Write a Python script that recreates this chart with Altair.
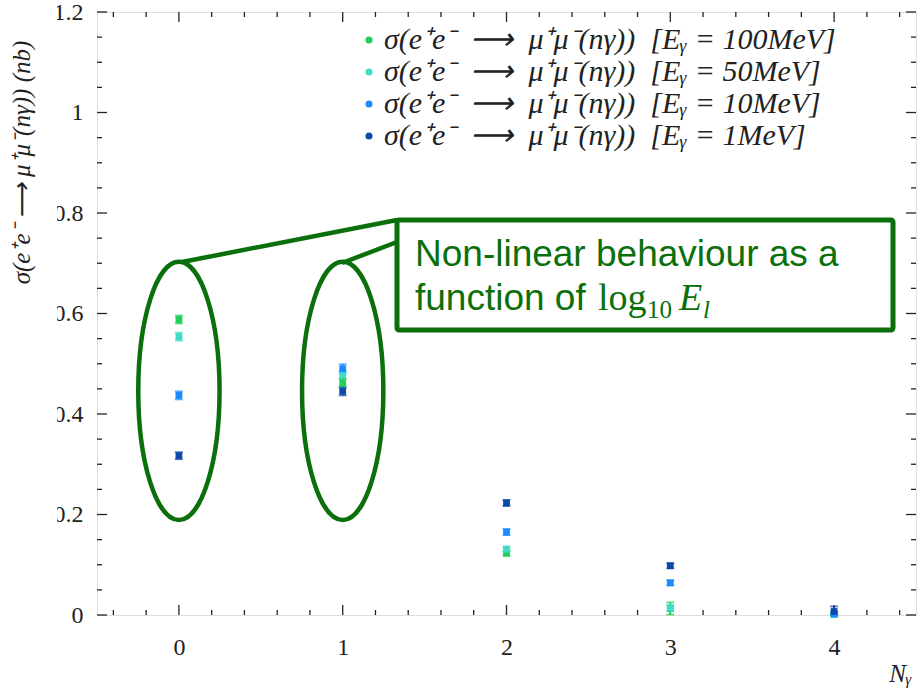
import altair as alt
import pandas as pd

# ---------------- data ----------------
n_gamma = [0, 1, 2, 3, 4]
sigma_100 = [0.588, 0.462, 0.123, 0.013, 0.001]
sigma_50 = [0.554, 0.478, 0.131, 0.014, 0.001]
sigma_10 = [0.437, 0.490, 0.165, 0.064, 0.002]
sigma_1 = [0.317, 0.445, 0.223, 0.098, 0.007]
err_100 = [0.008, 0.008, 0.005, 0.012, 0.004]
err_50 = [0.008, 0.008, 0.005, 0.006, 0.004]
err_10 = [0.008, 0.009, 0.006, 0.005, 0.004]
err_1 = [0.007, 0.008, 0.006, 0.005, 0.010]

EN = "\u2002"
series_labels = [
    f"σ(e⁺e⁻{EN}⟶{EN}μ⁺μ⁻(nγ)){EN}[Eᵧ = 100MeV]",
    f"σ(e⁺e⁻{EN}⟶{EN}μ⁺μ⁻(nγ)){EN}[Eᵧ = 50MeV]",
    f"σ(e⁺e⁻{EN}⟶{EN}μ⁺μ⁻(nγ)){EN}[Eᵧ = 10MeV]",
    f"σ(e⁺e⁻{EN}⟶{EN}μ⁺μ⁻(nγ)){EN}[Eᵧ = 1MeV]",
]
series_colors = ["#1fcf5a", "#40dcc8", "#1a8cff", "#0b4aa6"]

x_major = [0, 1, 2, 3, 4]
x_minor = [-0.4, -0.2, 0.2, 0.4, 0.6, 0.8, 1.2, 1.4, 1.6, 1.8,
           2.2, 2.4, 2.6, 2.8, 3.2, 3.4, 3.6, 3.8, 4.2, 4.4]
y_major = [0, 0.2, 0.4, 0.6, 0.8, 1.0, 1.2]
y_minor = [0.05, 0.1, 0.15, 0.25, 0.3, 0.35, 0.45, 0.5, 0.55, 0.65,
           0.7, 0.75, 0.85, 0.9, 0.95, 1.05, 1.1, 1.15]

# highlighted groups (ellipse annotation centres)
ellipse_x = [0, 1]
ellipse_y = [0.446, 0.446]

annot_line1 = "Non-linear behaviour as a"
annot_line2 = "function of"

# ---------------- build tables ----------------
rows = []
for lab, vals, errs in zip(series_labels,
                           [sigma_100, sigma_50, sigma_10, sigma_1],
                           [err_100, err_50, err_10, err_1]):
    for xv, v, e in zip(n_gamma, vals, errs):
        rows.append({"n": xv, "sigma": v, "lo": max(v - e, 0), "hi": v + e, "series": lab})
df = pd.DataFrame(rows)

W, H = 819, 603
GREEN = "#0b700b"
SERIF = "Liberation Serif"
INK = "#222222"

xscale = alt.Scale(domain=[-0.5, 4.5], nice=False, zero=False)
yscale = alt.Scale(domain=[0, 1.2], nice=False, zero=True)
cscale = alt.Scale(domain=series_labels, range=series_colors)
color = alt.Color(
    "series:N",
    scale=cscale,
    sort=series_labels,
    legend=alt.Legend(
        orient="none", legendX=257, legendY=13, title=None,
        labelFont=SERIF, labelFontStyle="italic", labelFontSize=30,
        labelColor=INK, labelLimit=0, labelOffset=0,
        symbolType="circle", symbolSize=50, symbolStrokeWidth=0,
        symbolOpacity=1, rowPadding=2, padding=0,
    ),
)
color_nolegend = alt.Color("series:N", scale=cscale, legend=None)

base = alt.Chart(df)

x_axis = alt.Axis(
    values=x_major, format="~g", domain=False, ticks=False, grid=False,
    labelFont=SERIF, labelFontSize=24, labelColor=INK, labelPadding=20,
    title="Nᵧ", titleFont=SERIF, titleFontStyle="italic", titleFontWeight="normal",
    titleFontSize=25, titleColor=INK, titleX=803, titleY=58,
    titleAlign="center", titleBaseline="middle",
)
y_axis = alt.Axis(
    values=y_major, format="~g", domain=False, ticks=False, grid=False,
    labelFont=SERIF, labelFontSize=24, labelColor=INK, labelPadding=14,
    title="σ(e⁺e⁻ ⟶ μ⁺μ⁻(nγ)) (nb)", titleFont=SERIF, titleFontStyle="italic",
    titleFontWeight="normal", titleFontSize=25, titleColor=INK,
    titleX=-76, titleY=150, titleAngle=270, titleAlign="center", titleBaseline="middle",
)

bars = base.mark_rule(strokeWidth=1.8).encode(
    x=alt.X("n:Q", scale=xscale, axis=x_axis),
    y=alt.Y("lo:Q", scale=yscale, axis=y_axis),
    y2="hi:Q",
    color=color,
)
caps_lo = base.mark_tick(orient="horizontal", size=8, thickness=1.8).encode(
    x="n:Q", y="lo:Q", color=color_nolegend)
caps_hi = base.mark_tick(orient="horizontal", size=8, thickness=1.8).encode(
    x="n:Q", y="hi:Q", color=color_nolegend)
points = base.mark_point(shape="square", filled=True, size=46, opacity=1).encode(
    x="n:Q", y="sigma:Q", color=color)

# inward ticks on all four sides
def tick_layer(vals, axis, length):
    d = pd.DataFrame({"v": vals})
    c = alt.Chart(d).mark_rule(color=INK, strokeWidth=1.3)
    if axis == "x":
        bottom = c.encode(x=alt.X("v:Q", scale=xscale), y=alt.value(H), y2=alt.value(H - length))
        top = c.encode(x=alt.X("v:Q", scale=xscale), y=alt.value(0), y2=alt.value(length))
        return bottom + top
    left = c.encode(y=alt.Y("v:Q", scale=yscale), x=alt.value(0), x2=alt.value(length))
    right = c.encode(y=alt.Y("v:Q", scale=yscale), x=alt.value(W), x2=alt.value(W - length))
    return left + right

ticks = (tick_layer(x_major, "x", 10) + tick_layer(x_minor, "x", 5)
         + tick_layer(y_major, "y", 10) + tick_layer(y_minor, "y", 5))

one = alt.Data(values=[{"a": 1}])
# the source figure is cropped just left of the y tick labels
label_crop = alt.Chart(one).mark_rect(fill="white").encode(
    x=alt.value(-60), x2=alt.value(-40), y=alt.value(-12), y2=alt.value(H + 20))

# ---------------- annotation ----------------
k = 0.5523
rx = 0.315
ellipse_path = (
    f"M0,-1C{k*rx:.4f},-1 {rx},-{k} {rx},0"
    f"C{rx},{k} {k*rx:.4f},1 0,1"
    f"C-{k*rx:.4f},1 -{rx},{k} -{rx},0"
    f"C-{rx},-{k} -{k*rx:.4f},-1 0,-1Z"
)
ell_df = pd.DataFrame({"ex": ellipse_x, "ey": ellipse_y})
ellipses = alt.Chart(ell_df).mark_point(
    shape=ellipse_path, filled=False, stroke=GREEN, strokeWidth=4.5, size=66600, opacity=1
).encode(x=alt.X("ex:Q", scale=xscale), y=alt.Y("ey:Q", scale=yscale))

callout1 = alt.Chart(one).mark_rule(color=GREEN, strokeWidth=4.5).encode(
    x=alt.value(300), y=alt.value(208), x2=alt.value(85), y2=alt.value(250))
callout2 = alt.Chart(one).mark_rule(color=GREEN, strokeWidth=4.5).encode(
    x=alt.value(300), y=alt.value(230), x2=alt.value(245), y2=alt.value(251))
box = alt.Chart(one).mark_rect(fill="white", stroke=GREEN, strokeWidth=5, cornerRadius=2).encode(
    x=alt.value(300), x2=alt.value(796), y=alt.value(208), y2=alt.value(318))

def txt(s, x, y, font="Liberation Sans", size=37, style="normal"):
    return alt.Chart(one).mark_text(
        text=s, align="left", baseline="alphabetic", font=font, fontSize=size,
        fontStyle=style, color=GREEN).encode(x=alt.value(x), y=alt.value(y))

text_layers = (
    txt(annot_line1, 318, 254)
    + txt(annot_line2, 318, 298)
    + txt("log", 501, 298, font=SERIF, size=38)
    + txt("10", 550, 306, font=SERIF, size=25)
    + txt("E", 582, 298, font=SERIF, size=38, style="italic")
    + txt("l", 606, 306, font=SERIF, size=25, style="italic")
)

chart = alt.layer(
    ticks, label_crop, bars, caps_lo, caps_hi, points, ellipses, callout1, callout2, box, text_layers
).resolve_scale(color="shared").properties(
    width=W, height=H,
    autosize=alt.AutoSizeParams(type="none"),
    padding={"left": 97, "top": 12, "right": 8, "bottom": 76},
).configure_view(stroke=INK, strokeWidth=1.5).configure(background="white")

chart.save("out.html", embed_options={"renderer": "svg", "actions": False})
